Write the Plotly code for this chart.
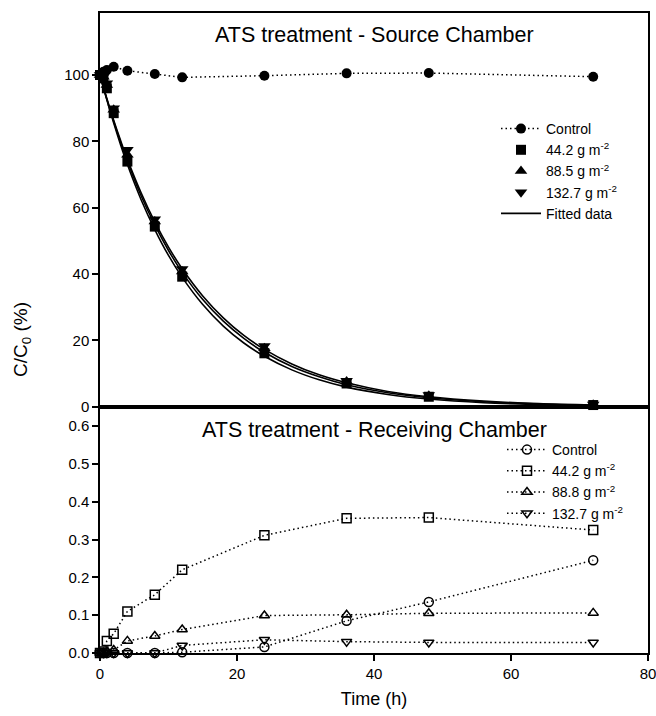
import plotly.graph_objects as go

# ---------------- data ----------------
time_h = [0, 0.5, 1, 2, 4, 8, 12, 24, 36, 48, 72]

# Source chamber (C/C0, %)
src_control = [100.0, 101.0, 101.5, 102.5, 101.3, 100.3, 99.3, 99.8, 100.5, 100.6, 99.5]
src_442 = [100.0, 99.0, 96.0, 88.5, 73.9, 54.3, 39.2, 16.1, 7.0, 3.0, 0.5]
src_885 = [100.0, 99.5, 97.0, 89.5, 76.0, 55.8, 40.8, 17.6, 7.6, 3.3, 0.6]
src_1327 = [100.0, 99.5, 97.5, 90.0, 77.5, 56.5, 41.5, 18.3, 7.8, 3.5, 0.7]

# Fitted curves
fit_time = [0, 1, 2, 3, 4, 6, 8, 10, 12, 15, 18, 21, 24, 28, 32, 36, 42, 48, 56, 64, 72]
fit_442 = [100, 92.5, 85.5, 79.0, 73.0, 62.4, 53.4, 45.6, 39.0, 30.8, 24.3, 19.2, 15.2,
           11.1, 8.1, 5.9, 3.7, 2.3, 1.2, 0.66, 0.35]
fit_885 = [100, 92.7, 86.0, 79.8, 74.0, 63.6, 54.8, 47.1, 40.5, 32.3, 25.8, 20.6, 16.4,
           12.1, 9.0, 6.6, 4.2, 2.7, 1.5, 0.81, 0.44]
fit_1327 = [100, 92.9, 86.4, 80.3, 74.6, 64.5, 55.7, 48.1, 41.6, 33.4, 26.8, 21.5, 17.3,
            12.9, 9.6, 7.2, 4.6, 3.0, 1.7, 0.93, 0.52]

# Receiving chamber (C/C0, %)
rec_control = [0.0, 0.0, 0.0, 0.0, 0.0, 0.0, 0.002, 0.016, 0.085, 0.135, 0.245]
rec_442 = [0.0, 0.004, 0.032, 0.051, 0.110, 0.154, 0.220, 0.311, 0.356, 0.358, 0.325]
rec_888 = [0.0, 0.0, 0.004, 0.008, 0.032, 0.045, 0.062, 0.099, 0.101, 0.105, 0.106]
rec_1327 = [0.0, 0.0, 0.0, 0.0, 0.0, 0.0, 0.020, 0.035, 0.030, 0.028, 0.028]

x_ticks = [0, 20, 40, 60, 80]
top_y_ticks = [0, 20, 40, 60, 80, 100]
bot_y_ticks = [0.0, 0.1, 0.2, 0.3, 0.4, 0.5, 0.6]

# ---------------- figure ----------------
FONT = "Liberation Sans, Arial, sans-serif"
DOT = "1.5px,3px"
fig = go.Figure()

# Top panel (xaxis2 / yaxis2)
fig.add_trace(go.Scatter(x=time_h, y=src_control, name="Control", mode="lines+markers",
                         line=dict(color="black", width=1.5, dash=DOT),
                         marker=dict(symbol="circle", size=10, color="black"),
                         xaxis="x2", yaxis="y2", legend="legend", legendrank=1,
                         cliponaxis=False))
for ys, show in [(fit_442, True), (fit_885, False), (fit_1327, False)]:
    fig.add_trace(go.Scatter(x=fit_time, y=ys, name="Fitted data", mode="lines",
                             line_shape="spline",
                             line=dict(color="black", width=1.6), showlegend=show,
                             xaxis="x2", yaxis="y2", legend="legend", legendrank=5))
fig.add_trace(go.Scatter(x=time_h, y=src_442, name="44.2 g m<sup>-2</sup>", mode="markers",
                         marker=dict(symbol="square", size=10, color="black"),
                         xaxis="x2", yaxis="y2", legend="legend", legendrank=2,
                         cliponaxis=False))
fig.add_trace(go.Scatter(x=time_h, y=src_885, name="88.5 g m<sup>-2</sup>", mode="markers",
                         marker=dict(symbol="triangle-up", size=11, color="black"),
                         xaxis="x2", yaxis="y2", legend="legend", legendrank=3,
                         cliponaxis=False))
fig.add_trace(go.Scatter(x=time_h, y=src_1327, name="132.7 g m<sup>-2</sup>", mode="markers",
                         marker=dict(symbol="triangle-down", size=11, color="black"),
                         xaxis="x2", yaxis="y2", legend="legend", legendrank=4,
                         cliponaxis=False))

# Bottom panel (x / y)
for ys, nm, sym in [(rec_control, "Control", "circle-open"),
                    (rec_442, "44.2 g m<sup>-2</sup>", "square-open"),
                    (rec_888, "88.8 g m<sup>-2</sup>", "triangle-up-open"),
                    (rec_1327, "132.7 g m<sup>-2</sup>", "triangle-down-open")]:
    fig.add_trace(go.Scatter(x=time_h, y=ys, name=nm, mode="lines+markers",
                             line=dict(color="black", width=1.5, dash=DOT),
                             marker=dict(symbol=sym, size=9, color="black",
                                         line=dict(color="black", width=1.5)),
                             xaxis="x", yaxis="y", legend="legend2", cliponaxis=False))

split = (653 - 406.7) / 640
axis_common = dict(showline=True, linecolor="black", linewidth=1.5, mirror=True,
                   showgrid=False, zeroline=False, ticks="outside", ticklen=6,
                   tickwidth=1.5, tickcolor="black", ticklabeloverflow="allow",
                   tickfont=dict(family=FONT, size=15, color="black"))

fig.update_layout(
    width=656, height=716,
    margin=dict(l=100, r=8, t=13, b=63, autoexpand=False),
    paper_bgcolor="white", plot_bgcolor="white",
    font=dict(family=FONT, size=15, color="black"),
    xaxis=dict(axis_common, domain=[0, 1], range=[0, 80], tickvals=x_ticks,
               title=dict(text="Time (h)", font=dict(family=FONT, size=18), standoff=12)),
    yaxis=dict(axis_common, domain=[0, split], range=[0, 0.651], tickvals=bot_y_ticks,
               tickformat=".1f"),
    xaxis2=dict(axis_common, domain=[0, 1], range=[0, 80], anchor="y2",
                showticklabels=False, ticks=""),
    yaxis2=dict(axis_common, domain=[split, 1], range=[0, 118.7], tickvals=top_y_ticks,
                anchor="x2"),
    legend=dict(x=(496 - 100) / 548, y=(653 - 113) / 640, xanchor="left", yanchor="top",
                bgcolor="rgba(0,0,0,0)", font=dict(family=FONT, size=14),
                traceorder="normal", itemwidth=40),
    legend2=dict(x=(502 - 100) / 548, y=(653 - 434) / 640, xanchor="left", yanchor="top",
                 bgcolor="rgba(0,0,0,0)", font=dict(family=FONT, size=14),
                 traceorder="normal", itemwidth=40),
    showlegend=True,
    annotations=[
        dict(text="ATS treatment - Source Chamber", xref="paper", yref="paper",
             x=0.5, y=(653 - 35) / 640, showarrow=False, xanchor="center", yanchor="middle",
             font=dict(family=FONT, size=21.5)),
        dict(text="ATS treatment - Receiving Chamber", xref="paper", yref="paper",
             x=0.5, y=(653 - 430) / 640, showarrow=False, xanchor="center", yanchor="middle",
             font=dict(family=FONT, size=21.5)),
        dict(text="C/C<sub>0</sub> (%)", xref="paper", yref="paper",
             x=(22 - 100) / 548, y=(653 - 340) / 640, showarrow=False, textangle=-90,
             xanchor="center", yanchor="middle", font=dict(family=FONT, size=19)),
    ],
)

fig.write_html("out.html")
